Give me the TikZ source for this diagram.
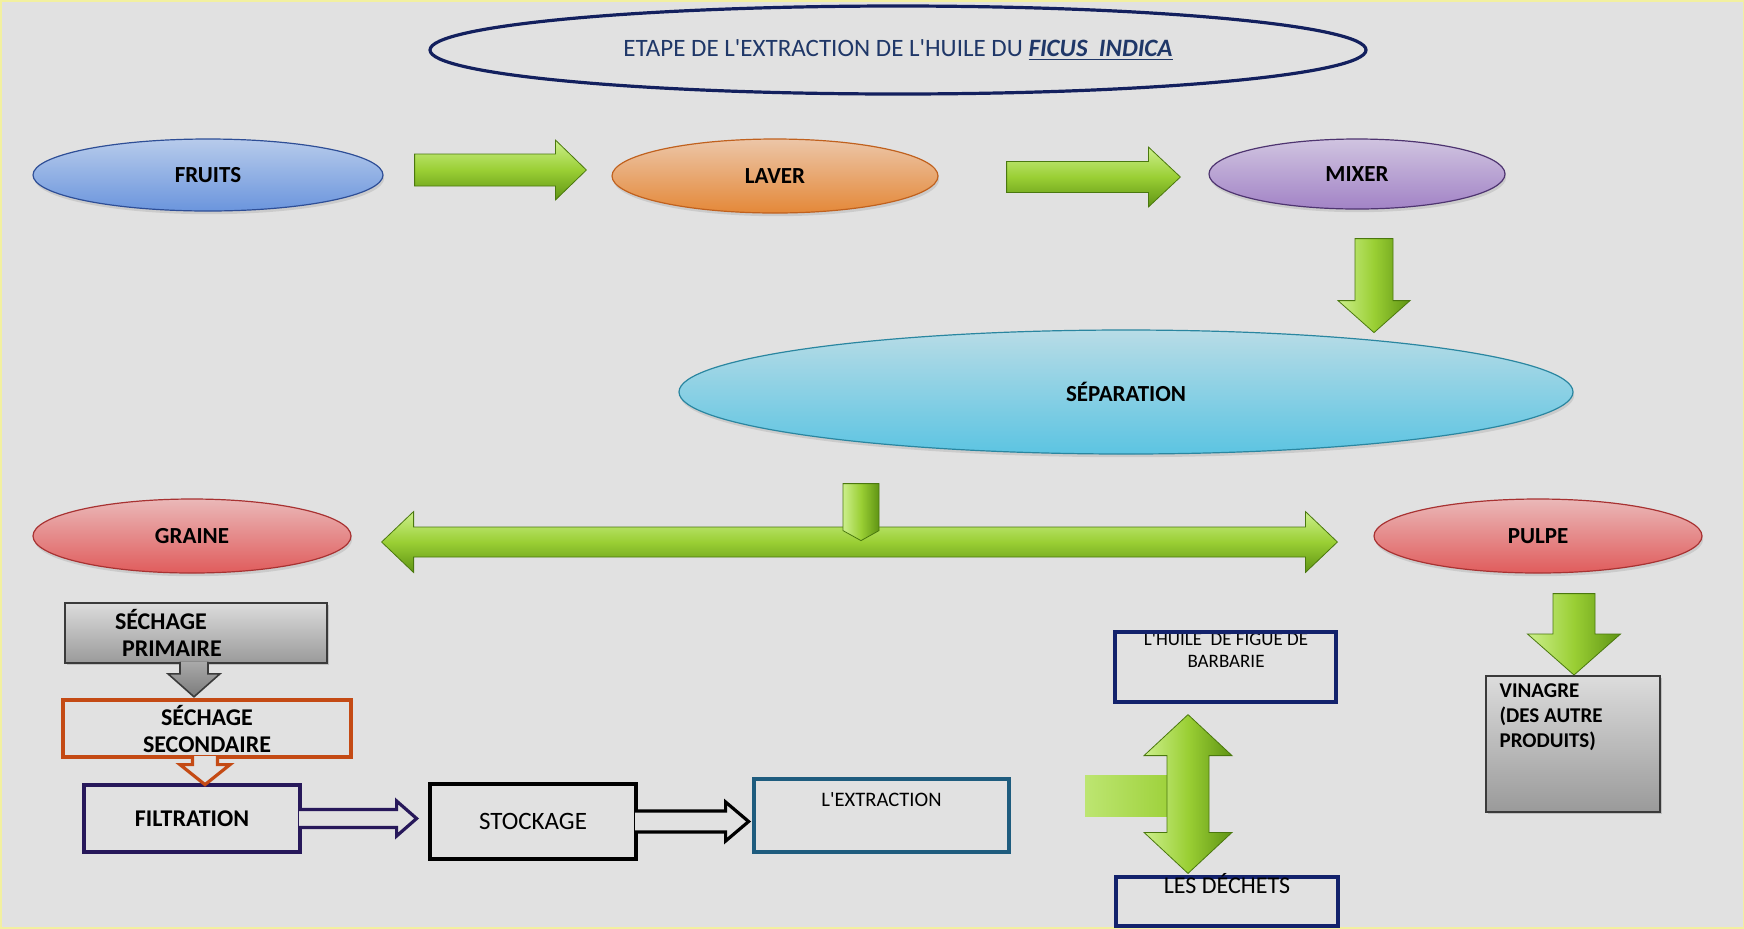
\documentclass[tikz,border=0pt]{standalone}
\usepackage{fontspec}
\setmainfont{Carlito}
\usetikzlibrary{calc,shapes.geometric,shadows}

\definecolor{bg}{HTML}{E1E1E1}
\definecolor{framey}{HTML}{F2F0A0}
\definecolor{titleblue}{HTML}{1F3768}
\definecolor{titlenavy}{HTML}{13205E}
\definecolor{fruitline}{HTML}{2E4E96}
\definecolor{fruittop}{HTML}{B7CBEB}
\definecolor{fruitbot}{HTML}{6B95DD}
\definecolor{laverline}{HTML}{C0611E}
\definecolor{lavertop}{HTML}{ECC6A8}
\definecolor{laverbot}{HTML}{E48838}
\definecolor{mixerline}{HTML}{4E3470}
\definecolor{mixertop}{HTML}{D0C4E0}
\definecolor{mixerbot}{HTML}{A283C6}
\definecolor{sepline}{HTML}{2A86A0}
\definecolor{septop}{HTML}{B8DCE6}
\definecolor{sepbot}{HTML}{5CC4E2}
\definecolor{redline}{HTML}{A83232}
\definecolor{redtop}{HTML}{EAB8B8}
\definecolor{redbot}{HTML}{E05C5C}
\definecolor{grayline}{HTML}{3A3A3A}
\definecolor{graytop}{HTML}{DCDCDC}
\definecolor{graybot}{HTML}{9A9A9A}
\definecolor{sechorange}{HTML}{C44A14}
\definecolor{filtnavy}{HTML}{27185A}
\definecolor{extrblue}{HTML}{1E5C7E}
\definecolor{huilenavy}{HTML}{13226C}
\definecolor{garrowtop}{HTML}{CCEF8C}
\definecolor{garrowmid}{HTML}{9ACF34}
\definecolor{garrowbot}{HTML}{5F9414}
\definecolor{garrowline}{HTML}{4A780E}

\newcommand\ap{\textquotesingle}

\tikzset{
  stage/.style={ellipse, draw, line width=0.6pt, inner sep=0pt,
    font=\fontsize{11.5}{13}\selectfont\bfseries,
    drop shadow={opacity=0.22, shadow xshift=0.6pt, shadow yshift=-1.6pt}},
  greenarr/.style={top color=garrowtop, bottom color=garrowbot, middle color=garrowmid,
    draw=garrowline, line width=0.4pt},
  greenarrv/.style={left color=garrowtop, right color=garrowbot, middle color=garrowmid,
    draw=garrowline, line width=0.4pt},
  stepbox/.style={rectangle, draw, line width=1.6pt, inner sep=0pt},
  graybox/.style={rectangle, draw=grayline, line width=0.8pt, inner sep=0pt,
    top color=graytop, bottom color=graybot,
    drop shadow={opacity=0.35, shadow xshift=1.2pt, shadow yshift=-1.2pt}},
  boldlab/.style={font=\fontsize{12}{13.5}\selectfont\bfseries},
  plainlab/.style={font=\fontsize{12}{13.5}\selectfont},
}

% block arrow: [style]{from}{to}{shaft half width}{head half width}{head length}
\newcommand\blockarrow[6][]{%
  \coordinate (ba-h) at ($(#3)!#6!(#2)$);
  \path[#1] ($(#2)!#4!90:(#3)$) -- ($(ba-h)!#4!90:(#3)$) -- ($(ba-h)!#5!90:(#3)$) -- (#3)
    -- ($(ba-h)!#5!-90:(#3)$) -- ($(ba-h)!#4!-90:(#3)$) -- ($(#2)!#4!-90:(#3)$) -- cycle;}
% same, open at the tail (leaves the box border open)
\newcommand\openarrow[6][]{%
  \coordinate (ba-h) at ($(#3)!#6!(#2)$);
  \filldraw[#1] ($(#2)!#4!90:(#3)$) -- ($(ba-h)!#4!90:(#3)$) -- ($(ba-h)!#5!90:(#3)$) -- (#3)
    -- ($(ba-h)!#5!-90:(#3)$) -- ($(ba-h)!#4!-90:(#3)$) -- ($(#2)!#4!-90:(#3)$);}
% two headed block arrow
\newcommand\dblarrow[6][]{%
  \coordinate (ba-h1) at ($(#2)!#6!(#3)$);
  \coordinate (ba-h2) at ($(#3)!#6!(#2)$);
  \path[#1] (#2) -- ($(ba-h1)!#5!90:(#3)$) -- ($(ba-h1)!#4!90:(#3)$)
    -- ($(ba-h2)!#4!-90:(#2)$) -- ($(ba-h2)!#5!-90:(#2)$) -- (#3)
    -- ($(ba-h2)!#5!90:(#2)$) -- ($(ba-h2)!#4!90:(#2)$)
    -- ($(ba-h1)!#4!-90:(#3)$) -- ($(ba-h1)!#5!-90:(#3)$) -- cycle;}

\begin{document}
\begin{tikzpicture}[x=0.5pt,y=-0.5pt]
\useasboundingbox (0,0) rectangle (1744,928);
\fill[bg] (0,0) rectangle (1744,928);
\draw[framey, line width=1.5pt] (0,0) rectangle (1744,928);

% title
\node[ellipse, draw=titlenavy, line width=1.6pt, minimum width=468pt, minimum height=44pt,
  text=titleblue, font=\fontsize{12.5}{14}\selectfont] (title) at (898,50)
  {ETAPE DE L\ap EXTRACTION DE L\ap HUILE DU \underline{\textbf{\textit{FICUS\ \ INDICA}}}};

% first row
\node[stage, draw=fruitline, top color=fruittop, bottom color=fruitbot,
  minimum width=175pt, minimum height=36pt] (fruits) at (208,175) {FRUITS};
\node[stage, draw=laverline, top color=lavertop, bottom color=laverbot,
  minimum width=163pt, minimum height=37pt] (laver) at (775,176) {LAVER};
\node[stage, draw=mixerline, top color=mixertop, bottom color=mixerbot,
  minimum width=148pt, minimum height=35pt] (mixer) at (1357,174) {MIXER};

% separation
\node[stage, draw=sepline, top color=septop, bottom color=sepbot,
  minimum width=447pt, minimum height=62pt] (separ) at (1126,392) {SÉPARATION};

% graine / pulpe
\node[stage, draw=redline, top color=redtop, bottom color=redbot,
  minimum width=159pt, minimum height=37pt] (graine) at (192,536) {GRAINE};
\node[stage, draw=redline, top color=redtop, bottom color=redbot,
  minimum width=164pt, minimum height=37pt] (pulpe) at (1538,536) {PULPE};

% green arrows
\coordinate (a1s) at ([xshift=15.5pt,yshift=2.5pt]fruits.east);
\coordinate (a1e) at ([xshift=-12.5pt,yshift=3pt]laver.west);
\blockarrow[greenarr]{a1s}{a1e}{8pt}{15pt}{15.5pt}
\coordinate (a2s) at ([xshift=34pt,yshift=-0.5pt]laver.east);
\coordinate (a2e) at ([xshift=-14pt,yshift=-1.5pt]mixer.west);
\blockarrow[greenarr]{a2s}{a2e}{7.75pt}{15pt}{16pt}
\coordinate (a3s) at ([xshift=8.5pt,yshift=-14.5pt]mixer.south);
\coordinate (a3e) at ([xshift=8.5pt,yshift=-61.5pt]mixer.south);
\blockarrow[greenarrv]{a3s}{a3e}{9.5pt}{18pt}{16pt}

\coordinate (splitl) at ([xshift=15pt,yshift=-3pt]graine.east);
\coordinate (splitr) at ([xshift=-18pt,yshift=-3pt]pulpe.west);
\dblarrow[greenarr]{splitl}{splitr}{7.5pt}{15.25pt}{16pt}
\coordinate (stems) at ([xshift=-132.5pt,yshift=-14.5pt]separ.south);
\coordinate (steme) at ([xshift=-132.5pt,yshift=-43pt]separ.south);
\blockarrow[greenarrv]{stems}{steme}{9pt}{9pt}{5pt}

\coordinate (p1s) at ([xshift=18pt,yshift=-10pt]pulpe.south);
\coordinate (p1e) at (1574,675);
\blockarrow[greenarrv]{p1s}{p1e}{10.5pt}{23.25pt}{20.5pt}

% seed branch
\node[graybox, minimum width=131pt, minimum height=30pt, text width=81pt, align=left,
  boldlab] (sp) at (196,633) {SÉCHAGE\\\hspace*{3.5pt}PRIMAIRE};
\node[stepbox, draw=sechorange, minimum width=144pt, minimum height=28.5pt,
  align=center, boldlab] (ss) at (207,728.5) {SÉCHAGE\\SECONDAIRE};
\node[stepbox, draw=filtnavy, minimum width=108pt, minimum height=33.5pt,
  boldlab] (filt) at (192,818.5) {FILTRATION};
\node[stepbox, draw=black, minimum width=103pt, minimum height=37.5pt,
  font=\fontsize{12.5}{14}\selectfont] (stock) at (533,821.5) {STOCKAGE};
\node[stepbox, draw=extrblue, minimum width=127.5pt, minimum height=36.5pt] (extr) at (881.5,815.5) {};
\node[anchor=base, inner sep=0pt, font=\fontsize{10.3}{12}\selectfont] (extrtxt)
  at ([yshift=-14.5pt]extr.north) {L\ap EXTRACTION};

\coordinate (g1s) at ([xshift=-1pt,yshift=1pt]sp.south);
\coordinate (g1e) at ([xshift=-1pt,yshift=-16.5pt]sp.south);
\openarrow[draw=grayline, line width=0.8pt, top color=graybot!85, bottom color=graybot!80!black]{g1s}{g1e}{7pt}{13pt}{11.5pt}
\coordinate (o1s) at ([xshift=-1pt,yshift=1.2pt]ss.south);
\coordinate (o1e) at ([xshift=-1pt,yshift=-13pt]ss.south);
\openarrow[draw=sechorange, fill=bg, line width=1.6pt]{o1s}{o1e}{6.25pt}{12.5pt}{10pt}
\coordinate (f1s) at ([xshift=-1.2pt]filt.east);
\coordinate (f1e) at ([xshift=57.5pt]filt.east);
\openarrow[draw=filtnavy, fill=bg, line width=1.6pt]{f1s}{f1e}{4.5pt}{8.75pt}{10pt}
\coordinate (s1s) at ([xshift=-1.2pt]stock.east);
\coordinate (s1e) at ([xshift=55.5pt]stock.east);
\openarrow[draw=black, fill=bg, line width=1.6pt]{s1s}{s1e}{5.25pt}{9.75pt}{11.5pt}

% oil / waste
\node[anchor=north, inner sep=0pt, align=center, font=\fontsize{9.5}{11}\selectfont] (huiletxt)
  at (1226,632) {L\ap HUILE\ \ DE FIGUE DE\\BARBARIE};
\node[stepbox, draw=huilenavy, minimum width=110.5pt, minimum height=35pt] (huile) at (1225.5,667) {};
\node[stepbox, draw=huilenavy, minimum width=111pt, minimum height=24.5pt] (dechets) at (1227,901.5) {};
\node[anchor=base, inner sep=0pt, plainlab] (dechetstxt)
  at ([yshift=-9pt]dechets.north) {LES DÉCHETS};

\fill[left color=garrowtop!70!garrowmid, right color=garrowmid] (1085,775) rectangle (1180,816);
\coordinate (t1s) at ([xshift=-18.75pt,yshift=-5.5pt]huile.south);
\coordinate (t1e) at ([xshift=-19.5pt,yshift=1pt]dechets.north);
\dblarrow[greenarrv]{t1s}{t1e}{10.5pt}{22pt}{20.5pt}

% pulp product
\node[graybox, minimum width=87pt, minimum height=68pt] (vin) at (1573,744) {};
\node[anchor=north west, inner sep=0pt, align=left, font=\fontsize{10.5}{12.5}\selectfont\bfseries] (vintxt)
  at ([xshift=7pt,yshift=-4.3pt]vin.north west) {VINAGRE\\(DES AUTRE\\PRODUITS)};
\end{tikzpicture}
\end{document}
